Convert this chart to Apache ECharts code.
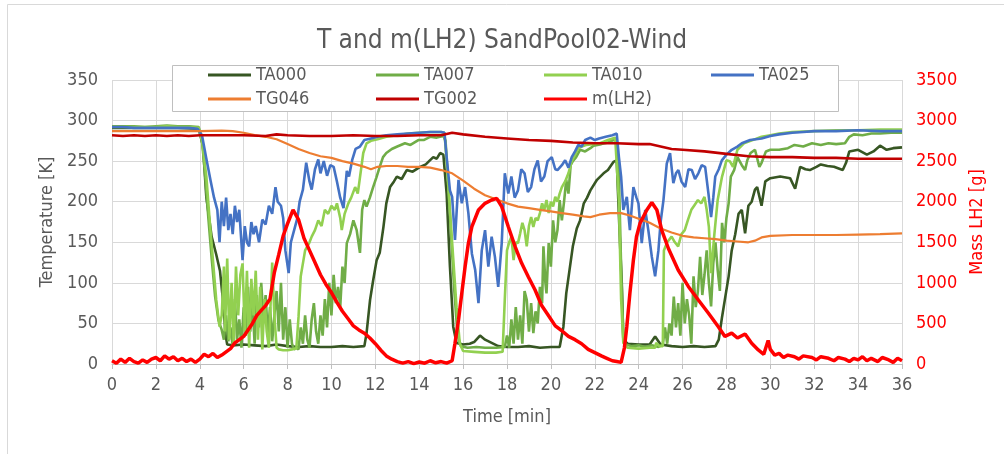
<!DOCTYPE html>
<html><head><meta charset="utf-8">
<script src="https://cdn.jsdelivr.net/npm/echarts@6/dist/echarts.min.js"></script>
<style>html,body{margin:0;padding:0;background:#fff}#c{width:1004px;height:454px}</style>
</head><body><div id="c"></div>
<script>
// ---- data: [time min, value] ----
const seriesNames = ['TA000','TA007','TA010','TA025','TG046','TG002','m(LH2)'];

const ta000 = [[0,291],[1,291],[2,291],[3,291],[3.95,290],
[4.15,268],[4.3,205],[4.54,157],[4.75,135],[4.92,115],[5.07,75],[5.18,35],[5.25,24],[5.5,23],[6.0,24],[6.5,23],[7.0,22],[7.5,24],[8.0,22],[8.5,21],[9.0,22],[9.5,21],[10.0,21],[10.5,22],[11.0,21],[11.5,22],
[11.6,38],[11.76,79],[11.9,103],[12.06,128],[12.2,137],[12.37,169],[12.5,198],[12.67,218],[12.85,225],[12.98,231],[13.2,228],[13.43,239],[13.7,237],[14.04,243],[14.3,246],[14.45,250],[14.64,255],[14.8,253],[14.95,260],[15.1,258],
[15.25,210],[15.4,120],[15.55,46],[15.7,26],[16.0,24],[16.3,25],[16.5,27],[16.77,35],[17.0,30],[17.3,26],[17.6,22],[18.0,21],[18.5,21],[19.0,22],[19.5,20],[20.0,21],[20.4,21],
[20.57,46],[20.7,87],[20.85,116],[21.0,145],[21.18,167],[21.33,177],[21.5,198],[21.65,205],[21.8,214],[22.1,227],[22.4,235],[22.6,239],[22.7,243],[22.85,249],[23.0,251],
[23.15,149],[23.23,100],[23.3,30],[23.5,25],[24.0,24],[24.5,24],[24.75,34],[25.0,24],[25.5,22],[26.0,21],[26.5,22],[27.0,21],[27.5,22],[27.65,30],
[27.8,58],[27.95,83],[28.1,108],[28.24,140],[28.4,160],[28.55,185],[28.7,190],[28.85,161],[29.0,195],[29.15,200],[29.3,215],[29.4,218],[29.6,195],[29.77,225],[30.0,229],[30.45,231],[30.9,229],[31.13,216],[31.36,243],[31.6,240],[31.8,239],[32.1,243],[32.3,246],[32.6,244],[32.9,243],[33.3,239],[33.45,248],[33.6,262],[34.0,264],[34.4,258],[34.7,262],[35.0,269],[35.3,264],[35.6,266],[36,267]];

const ta007 = [[0,293],[1,293],[1.5,292],[2,293],[2.5,294],[3,293],[3.5,293],[3.95,292],
[4.1,276],[4.25,231],[4.4,177],[4.55,128],[4.7,83],[4.85,54],[5.0,42],[5.1,30],[5.2,60],[5.3,28],[5.4,45],[5.5,22],[5.6,80],[5.7,30],[5.8,55],[5.9,20],[6.0,70],[6.1,35],[6.2,95],[6.3,40],[6.4,75],[6.5,25],[6.6,85],[6.7,45],[6.8,100],[6.9,55],[7.0,85],[7.1,35],[7.2,70],[7.3,28],[7.4,60],[7.5,90],[7.6,40],[7.7,100],[7.8,30],[7.9,70],[8.0,20],[8.1,55],[8.2,25],[8.3,18],[8.4,20],[8.5,18],[8.6,45],[8.7,25],[8.8,60],[8.9,30],[9.0,20],[9.1,55],[9.2,75],[9.3,40],[9.4,25],[9.5,60],[9.6,35],[9.7,80],[9.8,45],[9.9,100],[10.0,60],[10.1,110],[10.2,75],[10.3,95],[10.4,70],[10.5,120],[10.6,100],[10.7,149],[10.85,160],[11.0,177],[11.15,165],[11.3,137],[11.4,190],[11.5,202],[11.6,194],[11.75,205],[11.9,218],[12.05,230],[12.2,243],[12.35,255],[12.5,260],[12.75,265],[13.0,268],[13.35,272],[13.6,270],[13.96,276],[14.2,276],[14.5,280],[14.8,279],[15.1,281],[15.2,275],
[15.3,230],[15.45,160],[15.6,90],[15.75,35],[15.9,22],[16.2,20],[16.6,21],[17.0,20],[17.5,20],[17.9,21],[18.0,35],[18.1,20],[18.2,55],[18.3,25],[18.4,70],[18.5,30],[18.6,60],[18.7,25],[18.8,90],[18.9,79],[19.0,40],[19.1,75],[19.2,38],[19.3,65],[19.4,50],[19.5,95],[19.6,75],[19.66,145],[19.75,100],[19.8,87],[19.9,149],[20.0,120],[20.1,177],[20.2,150],[20.3,165],[20.4,202],[20.5,177],[20.6,200],[20.7,227],[20.8,210],[20.9,245],[21.0,250],[21.15,255],[21.33,264],[21.56,262],[21.8,266],[21.94,269],[22.3,271],[22.6,273],[22.85,276],[23.0,275],
[23.1,230],[23.2,120],[23.3,35],[23.4,24],[23.7,22],[24.0,23],[24.3,21],[24.6,23],[24.9,21],[25.1,24],[25.2,45],[25.3,25],[25.4,50],[25.5,35],[25.6,83],[25.7,45],[25.8,75],[25.9,35],[26.0,100],[26.1,50],[26.2,80],[26.3,60],[26.4,25],[26.5,108],[26.6,70],[26.7,90],[26.8,132],[26.9,85],[27.0,110],[27.1,140],[27.2,100],[27.3,71],[27.4,124],[27.5,150],[27.6,116],[27.7,90],[27.8,174],[27.9,150],[28.0,180],[28.1,198],[28.2,231],[28.35,239],[28.5,255],[28.6,250],[28.7,245],[28.85,239],[28.95,251],[29.1,260],[29.3,264],[29.5,243],[29.6,248],[29.8,262],[30.0,264],[30.4,264],[30.8,266],[31.1,270],[31.5,268],[31.9,272],[32.3,270],[32.65,272],[33.0,271],[33.4,272],[33.6,280],[33.8,283],[34.2,282],[34.6,284],[35.0,284],[35.5,285],[36,285]];

const ta010 = [[0,292],[1,292],[2,292],[2.5,293],[3,292],[3.5,292],[3.95,291],
[4.1,275],[4.3,231],[4.45,177],[4.6,128],[4.75,79],[4.9,46],[5.0,60],[5.1,120],[5.15,40],[5.25,130],[5.35,30],[5.45,100],[5.55,25],[5.65,120],[5.75,60],[5.85,110],[5.95,124],[6.05,40],[6.15,115],[6.25,20],[6.35,105],[6.45,60],[6.55,115],[6.65,30],[6.75,95],[6.85,18],[6.95,80],[7.05,40],[7.15,20],[7.3,125],[7.4,60],[7.5,20],[7.6,18],[7.8,17],[8.0,17],[8.2,18],[8.4,19],[8.5,58],[8.6,108],[8.8,140],[9.0,150],[9.1,157],[9.25,165],[9.4,177],[9.55,170],[9.7,190],[9.85,185],[10.0,195],[10.15,190],[10.25,198],[10.4,180],[10.47,165],[10.6,185],[10.77,198],[10.9,205],[11.08,218],[11.2,210],[11.3,230],[11.45,260],[11.6,272],[11.8,275],[12.1,277],[12.5,280],[13,282],[13.5,284],[14,285],[14.5,286],[15.0,286],[15.15,285],
[15.25,250],[15.4,190],[15.55,130],[15.7,70],[15.85,25],[16.0,16],[16.5,15],[17.0,14],[17.5,14],[17.8,15],[17.9,80],[18.0,140],[18.1,150],[18.2,157],[18.3,128],[18.4,150],[18.5,149],[18.6,161],[18.7,174],[18.8,165],[18.9,145],[19.0,170],[19.1,181],[19.2,169],[19.3,180],[19.4,177],[19.5,186],[19.6,198],[19.7,190],[19.8,202],[19.9,186],[20.0,200],[20.1,194],[20.2,206],[20.3,200],[20.4,210],[20.5,218],[20.65,225],[20.8,235],[20.95,250],[21.1,258],[21.25,266],[21.4,268],[21.6,270],[21.9,271],[22.24,272],[22.6,276],[22.93,279],[23.0,278],
[23.1,200],[23.2,80],[23.3,26],[23.5,20],[24.0,19],[24.5,20],[24.75,20],[24.8,26],[24.95,22],[25.1,22],[25.15,140],[25.3,150],[25.5,157],[25.65,150],[25.8,145],[25.95,160],[26.1,165],[26.25,178],[26.4,190],[26.55,196],[26.7,202],[26.85,198],[27.0,206],[27.1,190],[27.2,169],[27.3,112],[27.45,160],[27.6,202],[27.8,231],[28.0,251],[28.15,250],[28.3,243],[28.5,264],[28.8,272],[29.1,275],[29.6,280],[30.0,282],[30.4,284],[31,286],[32,287],[33,288],[34,288],[35,289],[36,289]];

const ta025 = [[0,292],[0.5,292],[1,291],[1.5,291],[2,291],[2.5,291],[3,291],[3.5,291],[3.9,290],
[4.1,282],[4.3,253],[4.5,225],[4.65,205],[4.8,190],[4.9,150],[5.0,200],[5.1,170],[5.2,205],[5.3,165],[5.4,185],[5.5,160],[5.6,195],[5.7,175],[5.8,190],[5.95,128],[6.05,170],[6.15,150],[6.25,145],[6.35,175],[6.45,160],[6.55,170],[6.7,150],[6.85,178],[7.0,172],[7.15,195],[7.3,185],[7.45,218],[7.55,200],[7.7,195],[7.8,180],[7.9,140],[8.05,112],[8.15,150],[8.3,165],[8.45,180],[8.55,200],[8.7,215],[8.85,248],[9.0,225],[9.1,215],[9.25,240],[9.4,252],[9.5,235],[9.65,250],[9.8,232],[9.95,245],[10.1,243],[10.25,225],[10.4,205],[10.55,192],[10.7,238],[10.8,231],[10.95,252],[11.1,265],[11.3,268],[11.5,276],[11.8,278],[12.1,280],[12.5,282],[13,283],[13.5,284],[14,285],[14.5,286],[15.0,286],[15.15,285],
[15.25,255],[15.4,214],[15.5,206],[15.63,153],[15.79,227],[15.94,198],[16.09,218],[16.24,186],[16.4,136],[16.55,116],[16.7,75],[16.85,140],[17.0,165],[17.15,120],[17.3,157],[17.45,132],[17.6,95],[17.76,149],[17.9,235],[18.06,210],[18.2,231],[18.35,205],[18.5,214],[18.65,240],[18.8,235],[18.95,212],[19.1,218],[19.25,240],[19.4,251],[19.55,225],[19.7,231],[19.85,250],[20.04,255],[20.2,240],[20.3,239],[20.5,245],[20.65,251],[20.8,242],[20.95,255],[21.1,262],[21.25,270],[21.4,268],[21.56,276],[21.8,279],[22.0,276],[22.2,278],[22.5,280],[22.8,282],[23.0,284],
[23.1,255],[23.2,231],[23.3,190],[23.46,206],[23.6,165],[23.76,218],[23.9,205],[23.99,198],[24.14,149],[24.3,190],[24.44,165],[24.6,132],[24.75,108],[24.9,140],[25.0,175],[25.13,202],[25.28,247],[25.43,260],[25.58,223],[25.7,235],[25.81,239],[25.95,225],[26.12,218],[26.27,240],[26.42,239],[26.57,228],[26.72,235],[26.87,245],[27.03,243],[27.18,210],[27.3,181],[27.4,205],[27.49,231],[27.65,240],[27.79,251],[28.0,258],[28.24,264],[28.5,268],[28.7,272],[29.08,276],[29.6,278],[30.0,281],[30.4,283],[31,285],[31.5,286],[32,287],[33,287],[34,288],[35,287],[36,287]];

const tg046 = [[0,287],[1,287],[2,287],[3,287],[4,287],[5,287.5],[5.5,287],[6,285],[6.5,282],[7,280],[7.5,277],[8,271],[8.5,265],[9,260],[9.5,256],[10,254],[10.5,250],[11,247],[11.5,243],[11.8,240],[12.1,243],[12.5,244],[13,244],[13.5,243],[14,243],[14.5,242],[15,239],[15.5,235],[16,226],[16.5,216],[17,208],[17.5,203],[18,198],[18.5,194],[19,192],[19.5,190],[20,188],[20.5,186],[21,184],[21.5,182],[21.8,181],[22.2,184],[22.7,186],[23.2,186],[23.6,183],[24,179],[24.5,174],[25,167],[25.5,162],[26,158],[26.5,156],[27,155],[27.5,154],[28,152],[28.5,151],[29,150],[29.3,152],[29.6,156],[30,158],[31,159],[32,159],[33,159],[34,159.5],[35,160],[36,161]];

const tg002 = [[0,282],[0.5,281],[1,282],[1.5,281],[2,282],[2.5,281],[3,282],[3.5,281],[4,282],[5,282],[6,282],[7,281],[7.5,283],[8,282],[9,281],[10,281],[11,282],[12,281],[13,281],[14,282],[15,282],[15.5,285],[16,283],[17,280],[18,278],[19,276],[20,275],[21,273],[22,272],[23,272],[24,271],[24.5,271],[25,268],[25.5,265],[26,264],[27,262],[28,259],[29,256],[30,255],[31,255],[32,254],[33,254],[34,253],[35,253],[36,253]];

const mLH2 = [[0,40],[0.2,10],[0.4,60],[0.6,20],[0.8,70],[1.0,30],[1.2,10],[1.4,50],[1.6,20],[1.8,60],[2.0,80],[2.2,40],[2.4,100],[2.6,60],[2.8,90],[3.0,40],[3.2,70],[3.4,30],[3.6,60],[3.8,20],[4.0,60],[4.2,120],[4.4,90],[4.6,130],[4.8,80],[5.0,110],[5.2,150],[5.4,190],[5.6,260],[5.8,300],[6.0,340],[6.2,420],[6.4,500],[6.6,600],[6.8,660],[7.0,720],[7.2,800],[7.4,1130],[7.6,1350],[7.8,1580],[8.0,1730],[8.25,1900],[8.5,1780],[8.75,1550],[9.0,1400],[9.25,1250],[9.5,1100],[9.75,980],[10.0,880],[10.25,760],[10.5,650],[10.75,560],[11.0,470],[11.25,420],[11.5,380],[11.75,320],[12.0,250],[12.25,170],[12.5,100],[12.75,60],[13.0,30],[13.25,10],[13.5,30],[13.75,5],[14.0,25],[14.25,10],[14.5,40],[14.75,15],[15.0,30],[15.25,10],[15.5,40],[15.63,255],[15.79,542],[15.94,871],[16.09,1199],[16.24,1487],[16.4,1692],[16.7,1898],[17.0,1980],[17.3,2021],[17.53,2042],[17.76,1939],[18.06,1692],[18.37,1446],[18.67,1241],[18.97,1076],[19.28,912],[19.58,720],[19.88,600],[20.2,470],[20.5,410],[20.8,340],[21.1,300],[21.4,250],[21.7,180],[22.0,140],[22.3,100],[22.55,70],[22.8,40],[23.0,30],[23.2,20],[23.35,200],[23.46,460],[23.6,871],[23.76,1282],[23.9,1569],[24.06,1733],[24.37,1898],[24.6,1990],[24.83,1898],[25.05,1651],[25.36,1420],[25.8,1158],[26.27,953],[26.72,789],[27.18,625],[27.63,460],[27.93,340],[28.24,380],[28.5,320],[28.85,370],[29.15,255],[29.45,173],[29.7,120],[29.9,290],[30.0,180],[30.2,110],[30.4,131],[30.6,80],[30.8,110],[31.1,90],[31.3,60],[31.5,100],[31.9,80],[32.1,50],[32.3,90],[32.65,70],[32.9,40],[33.1,80],[33.4,60],[33.6,30],[33.8,70],[34.0,50],[34.2,90],[34.4,40],[34.6,70],[34.9,30],[35.1,80],[35.4,50],[35.6,20],[35.8,70],[36,40]];

const colors = ['#375623','#70ad47','#92d050','#4472c4','#ed7d31','#c00000','#ff0000'];
const dataSets = [ta000, ta007, ta010, ta025, tg046, tg002, mLH2];

const FONT = "'Liberation Sans Narrow','DejaVu Sans Condensed','Liberation Sans',sans-serif";
const GRAY = '#595959';

const legendPos = [[208,66],[376,66],[544,66],[711,66],[208,90],[376,90],[544,90]];
const legends = seriesNames.map((n,i)=>({
  data:[n], left:legendPos[i][0], top:legendPos[i][1], padding:0,
  icon:'rect', itemWidth:43, itemHeight:3,
  textStyle:{color:GRAY, fontSize:18, fontFamily:FONT}
}));

const chart = echarts.init(document.getElementById('c'), null, {renderer:'canvas'});
chart.setOption({
  animation:false,
  backgroundColor:'#fff',
  textStyle:{fontFamily:FONT},
  title:{text:'T and m(LH2) SandPool02-Wind', left:'center', top:23,
    textStyle:{color:GRAY, fontSize:26, fontWeight:'normal', fontFamily:FONT}},
  graphic:[
    {type:'rect', z:-10, shape:{x:7.5,y:4.5,width:1100,height:500}, style:{fill:'none', stroke:'#d9d9d9', lineWidth:1}},
    {type:'rect', z:3, shape:{x:172.5,y:65.5,width:666,height:46}, style:{fill:'#fff', stroke:'#bfbfbf', lineWidth:1}}
  ],
  legend:legends,
  grid:{left:112, right:102, top:80, bottom:90},
  xAxis:{type:'value', min:0, max:36, interval:2,
    name:'Time [min]', nameLocation:'middle', nameGap:44,
    nameTextStyle:{color:GRAY, fontSize:18, fontFamily:FONT},
    axisLine:{lineStyle:{color:'#bfbfbf'}},
    axisTick:{show:true, length:5, lineStyle:{color:'#bfbfbf'}},
    axisLabel:{color:GRAY, fontSize:18, margin:12, fontFamily:FONT},
    splitLine:{show:true, lineStyle:{color:'#d9d9d9'}}},
  yAxis:[
    {type:'value', min:0, max:350, interval:50, position:'left',
     name:'Temperature [K]', nameLocation:'middle', nameGap:56,
     nameTextStyle:{color:GRAY, fontSize:18, fontFamily:FONT},
     axisLine:{show:false}, axisTick:{show:false},
     axisLabel:{color:GRAY, fontSize:18, margin:14, fontFamily:FONT},
     splitLine:{show:true, lineStyle:{color:'#d9d9d9'}}},
    {type:'value', min:0, max:3500, interval:500, position:'right',
     name:'Mass LH2 [g]', nameLocation:'middle', nameGap:57,
     nameTextStyle:{color:'#ff0000', fontSize:18, fontFamily:FONT},
     axisLine:{show:false}, axisTick:{show:false},
     axisLabel:{color:'#ff0000', fontSize:18, margin:14, fontFamily:FONT, formatter:(v)=>String(v)},
     splitLine:{show:false}}
  ],
  series: seriesNames.map((n,i)=>({
    name:n, type:'line', data:dataSets[i], yAxisIndex: i===6?1:0,
    showSymbol:false, symbol:'none', smooth:false,
    lineStyle:{color:colors[i], width: i===6?3.5:(i===4?2.2:2.6)},
    itemStyle:{color:colors[i]}, z: 2+i
  }))
});
</script></body></html>
